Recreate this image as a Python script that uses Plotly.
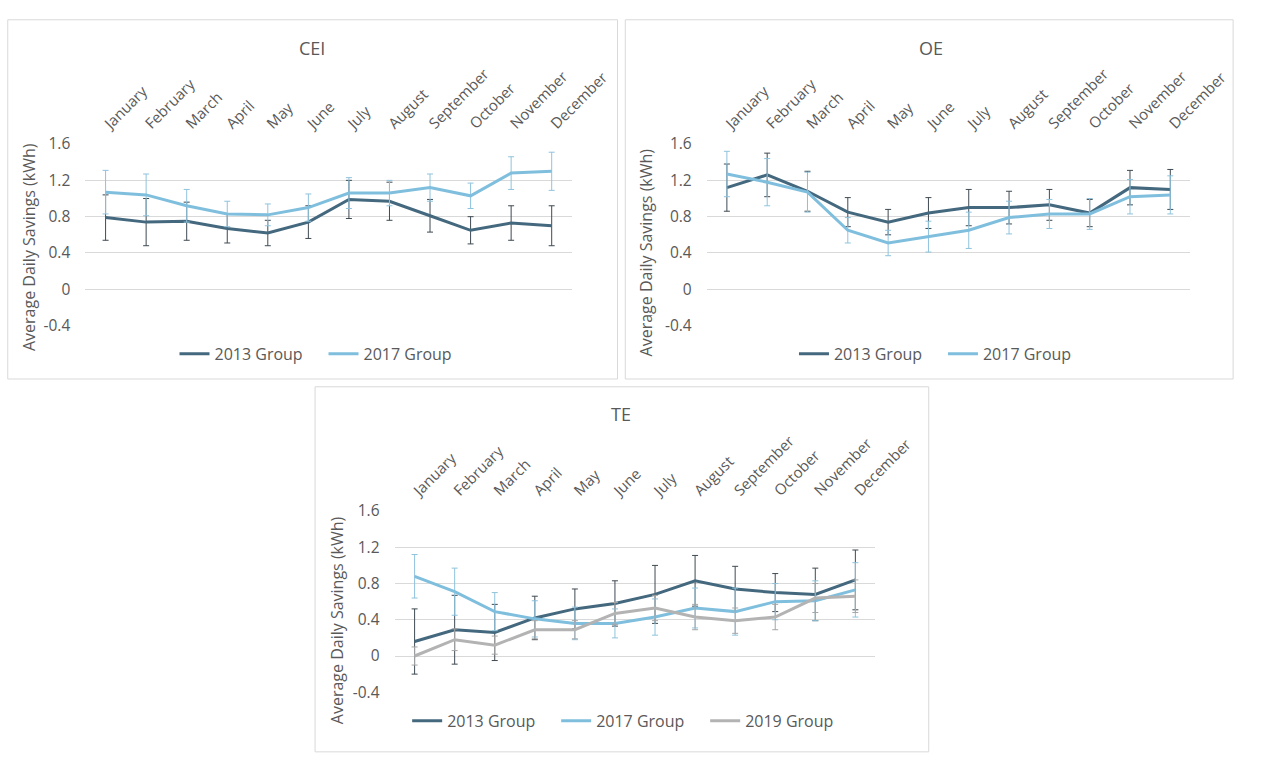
import plotly.graph_objects as go

# ---- data -----------------------------------------------------------------
months = ["January", "February", "March", "April", "May", "June", "July",
          "August", "September", "October", "November", "December"]

y_tick_vals = [-0.4, 0, 0.4, 0.8, 1.2, 1.6]
y_tick_text = ["-0.4", "0", "0.4", "0.8", "1.2", "1.6"]

cei_2013 = [0.79, 0.74, 0.75, 0.67, 0.62, 0.74, 0.99, 0.97, 0.81, 0.65, 0.73, 0.70]
cei_2013_err = [0.25, 0.26, 0.21, 0.16, 0.14, 0.18, 0.21, 0.21, 0.18, 0.15, 0.19, 0.22]
cei_2017 = [1.07, 1.04, 0.92, 0.83, 0.82, 0.90, 1.06, 1.06, 1.12, 1.03, 1.28, 1.30]
cei_2017_err = [0.24, 0.23, 0.18, 0.14, 0.12, 0.15, 0.17, 0.14, 0.15, 0.14, 0.18, 0.21]

oe_2013 = [1.12, 1.26, 1.08, 0.85, 0.74, 0.84, 0.90, 0.90, 0.93, 0.84, 1.12, 1.10]
oe_2013_err = [0.26, 0.24, 0.22, 0.16, 0.14, 0.17, 0.20, 0.18, 0.17, 0.15, 0.19, 0.22]
oe_2017 = [1.27, 1.18, 1.07, 0.65, 0.51, 0.58, 0.65, 0.79, 0.83, 0.83, 1.02, 1.04]
oe_2017_err = [0.25, 0.26, 0.22, 0.14, 0.14, 0.17, 0.20, 0.18, 0.16, 0.17, 0.19, 0.21]

te_2013 = [0.16, 0.29, 0.26, 0.42, 0.52, 0.58, 0.68, 0.83, 0.74, 0.70, 0.68, 0.84]
te_2013_err = [0.36, 0.38, 0.31, 0.24, 0.22, 0.25, 0.32, 0.28, 0.25, 0.21, 0.29, 0.33]
te_2017 = [0.88, 0.71, 0.49, 0.41, 0.36, 0.36, 0.43, 0.53, 0.49, 0.60, 0.61, 0.73]
te_2017_err = [0.24, 0.26, 0.21, 0.20, 0.18, 0.16, 0.20, 0.22, 0.26, 0.20, 0.22, 0.30]
te_2019 = [0.00, 0.18, 0.12, 0.29, 0.29, 0.47, 0.53, 0.43, 0.39, 0.43, 0.64, 0.66]
te_2019_err = [0.10, 0.12, 0.10, 0.10, 0.10, 0.12, 0.14, 0.14, 0.14, 0.14, 0.16, 0.18]

# ---- styling --------------------------------------------------------------
W, H = 1276, 757
FONT = "Open Sans"
TEXT = "#595959"
GRID = "#D9D9D9"
C2013 = "#44687E"
C2017 = "#7FBFDD"
C2019 = "#B3B3B3"
ERR2013 = "#3F4A52"
ERR2017 = "#8FC3DD"
ERR2019 = "#A6A6A6"


def px(x):
    return x / W


def py(y):
    return 1 - y / H


fig = go.Figure()


def add_series(values, errors, name, color, ecolor, xa, ya, legend):
    fig.add_trace(go.Scatter(
        x=months, y=values, name=name, mode="lines",
        line=dict(color=color, width=3),
        error_y=dict(type="data", array=errors, visible=True,
                     color=ecolor, thickness=1, width=3),
        xaxis=xa, yaxis=ya, legend=legend,
    ))


add_series(cei_2013, cei_2013_err, "2013 Group", C2013, ERR2013, "x", "y", "legend")
add_series(cei_2017, cei_2017_err, "2017 Group", C2017, ERR2017, "x", "y", "legend")
add_series(oe_2013, oe_2013_err, "2013 Group", C2013, ERR2013, "x2", "y2", "legend2")
add_series(oe_2017, oe_2017_err, "2017 Group", C2017, ERR2017, "x2", "y2", "legend2")
add_series(te_2013, te_2013_err, "2013 Group", C2013, ERR2013, "x3", "y3", "legend3")
add_series(te_2017, te_2017_err, "2017 Group", C2017, ERR2017, "x3", "y3", "legend3")
add_series(te_2019, te_2019_err, "2019 Group", C2019, ERR2019, "x3", "y3", "legend3")

# panel placements in pixels: (left, right, top, bottom) of the plotting area
panels = {
    "": (88, 590, 136, 323),
    "2": (729, 1228, 136, 323),
    "3": (407, 903, 514, 700.6),
}

for key, (l, r, t, b) in panels.items():
    fig.layout["xaxis" + key] = dict(
        domain=[px(l), px(r)], anchor="y" + key, side="top",
        type="category", range=[-0.5, 11.5], tickangle=-45,
        showgrid=False, zeroline=False, showline=False, ticks="",
        tickfont=dict(family=FONT, size=15, color=TEXT),
        ticklabelstandoff=8,
    )
    fig.layout["yaxis" + key] = dict(
        domain=[py(b), py(t)], anchor="x" + key, range=[-0.4, 1.6],
        tickvals=y_tick_vals, ticktext=y_tick_text,
        showgrid=True, gridcolor=GRID, gridwidth=1, zeroline=False,
        showline=False, ticks="",
        tickfont=dict(family=FONT, size=15.5, color=TEXT),
        ticklabelstandoff=14,
    )

legend_common = dict(orientation="h", xanchor="left", yanchor="middle",
                      font=dict(family=FONT, size=16, color=TEXT),
                      bgcolor="rgba(0,0,0,0)", borderwidth=0,
                      tracegroupgap=0, itemwidth=30, entrywidth=104)
fig.update_layout(
    legend=dict(x=px(180), y=py(352), **legend_common),
    legend2=dict(x=px(819), y=py(352), **legend_common),
    legend3=dict(x=px(420), y=py(730), **legend_common),
)

# panel frames
frames = [(8, 8, 637, 378), (645, 8, 1272, 378), (325, 386, 958, 762)]
for x0, y0, x1, y1 in frames:
    fig.add_shape(type="rect", xref="paper", yref="paper",
                  x0=px(x0), y0=py(y0), x1=px(x1), y1=py(y1),
                  line=dict(color=GRID, width=1), fillcolor="rgba(0,0,0,0)",
                  layer="below")

# panel titles
for text, x, y in [("CEI", 322, 37), ("OE", 960, 37), ("TE", 641, 414)]:
    fig.add_annotation(text=text, x=px(x), y=py(y), xref="paper", yref="paper",
                       showarrow=False, xanchor="center", yanchor="middle",
                       font=dict(family=FONT, size=18, color=TEXT))

# y-axis titles
for x, y in [(30, 242), (666, 248), (347, 626)]:
    fig.add_annotation(text="Average Daily Savings (kWh)", x=px(x), y=py(y),
                       xref="paper", yref="paper", showarrow=False,
                       textangle=-90, xanchor="center", yanchor="middle",
                       font=dict(family=FONT, size=16, color=TEXT))

fig.update_layout(
    width=W, height=H, autosize=False, margin=dict(l=0, r=0, t=0, b=0),
    paper_bgcolor="white", plot_bgcolor="white",
    font=dict(family=FONT, color=TEXT),
)

fig.write_html("out.html")
